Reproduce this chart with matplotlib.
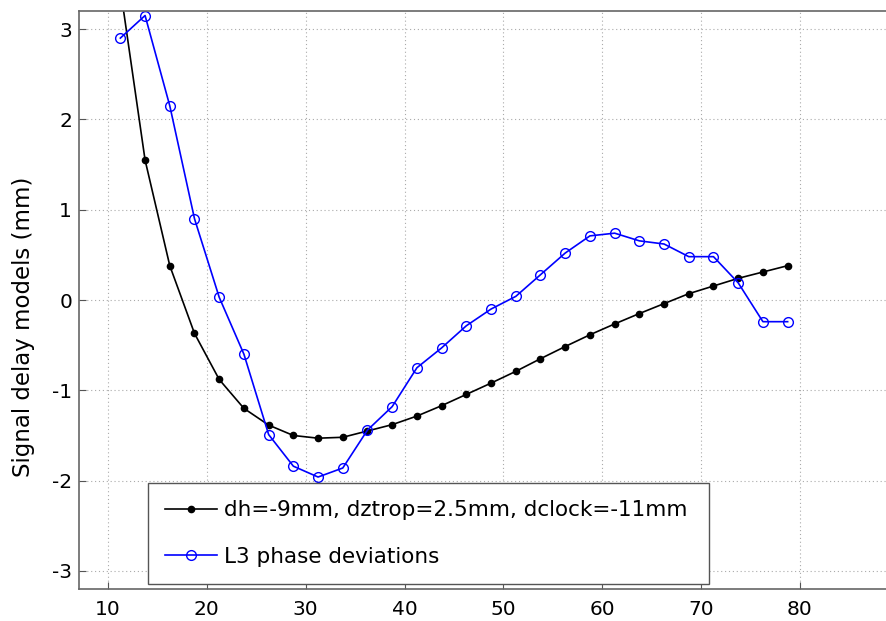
import matplotlib
matplotlib.use("Agg")
import matplotlib.pyplot as plt
import numpy as np

plt.rcParams['font.family'] = ['DejaVu Sans']
plt.rcParams['axes.unicode_minus'] = False

# elevation angles (deg)
elev = [11.25, 13.75, 16.25, 18.75, 21.25, 23.75, 26.25, 28.75, 31.25, 33.75,
        36.25, 38.75, 41.25, 43.75, 46.25, 48.75, 51.25, 53.75, 56.25, 58.75,
        61.25, 63.75, 66.25, 68.75, 71.25, 73.75, 76.25, 78.75]

model = [3.45, 1.55, 0.38, -0.37, -0.88, -1.20, -1.385, -1.50, -1.53, -1.52,
         -1.45, -1.38, -1.285, -1.17, -1.045, -0.92, -0.79, -0.65, -0.515, -0.385,
         -0.265, -0.15, -0.04, 0.07, 0.155, 0.24, 0.31, 0.38]

l3_phase = [2.90, 3.15, 2.15, 0.90, 0.03, -0.60, -1.49, -1.84, -1.96, -1.86,
            -1.44, -1.18, -0.75, -0.53, -0.285, -0.10, 0.04, 0.28, 0.52, 0.71,
            0.74, 0.655, 0.62, 0.48, 0.48, 0.19, -0.24, -0.24]

model_label = 'dh=-9mm, dztrop=2.5mm, dclock=-11mm'
phase_label = 'L3 phase deviations'

fig = plt.figure(figsize=(8.86, 6.21), dpi=100)
ax = fig.add_axes([0.0892, 0.0515, 0.9108, 0.9308])

ax.plot(elev, model, color='black', marker='o', markersize=4.5, linewidth=1.2,
        label=model_label)
ax.plot(elev, l3_phase, color='#0000ff', marker='o', markersize=7,
        markerfacecolor='none', markeredgewidth=1.0, linewidth=1.2,
        label=phase_label)

ax.set_xlim(7.07, 88.7)
ax.set_ylim(-3.2, 3.2)
ax.set_xticks([10, 20, 30, 40, 50, 60, 70, 80])
ax.set_yticks([-3, -2, -1, 0, 1, 2, 3])
ax.tick_params(direction='in', length=5, labelsize=14.5, color='#555555')
ax.tick_params(axis='x', pad=8)
ax.tick_params(axis='y', pad=5)
ax.grid(True, linestyle=(0, (1, 2.5)), color='#aaaaaa', linewidth=0.8)

for side in ['left', 'bottom', 'top']:
    ax.spines[side].set_color('#666666')
    ax.spines[side].set_linewidth(1.2)
ax.spines['right'].set_visible(False)

ax.set_ylabel('Signal delay models (mm)', fontsize=16.5)
ax.yaxis.set_label_coords(-0.054, 0.453)

leg = ax.legend(loc='lower left', bbox_to_anchor=(0.085, 0.0087, 0.696, 0.178),
                mode='expand', fontsize=15.5, handlelength=2.4, handletextpad=0.35,
                labelspacing=1.23, borderaxespad=0, fancybox=False,
                framealpha=1, borderpad=0.8)
leg.get_frame().set_edgecolor('#555555')
leg.get_frame().set_linewidth(1.0)

fig.savefig('out.png', dpi=100)
